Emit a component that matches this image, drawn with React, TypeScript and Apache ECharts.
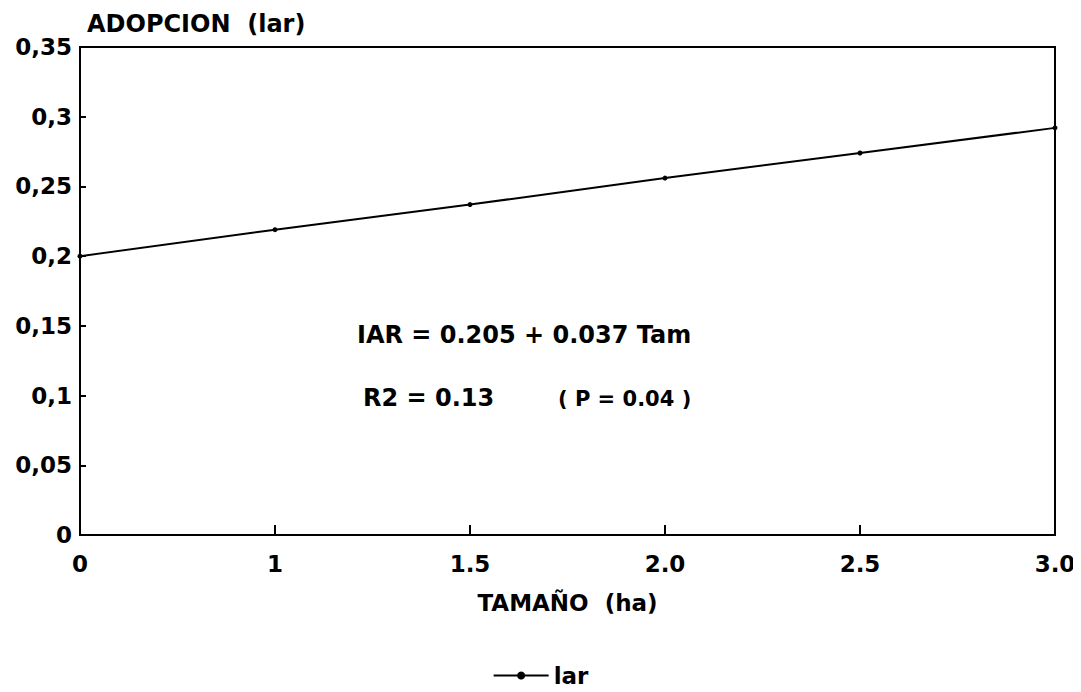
import React, { useEffect, useRef } from "react";
import * as echarts from "echarts";

const categories = ["0", "1", "1.5", "2.0", "2.5", "3.0"];
const iarValues = [0.2, 0.219, 0.237, 0.256, 0.274, 0.292];
const yTickLabels: Record<string, string> = {
  "0": "0",
  "0.05": "0,05",
  "0.1": "0,1",
  "0.15": "0,15",
  "0.2": "0,2",
  "0.25": "0,25",
  "0.3": "0,3",
  "0.35": "0,35",
};
const titleText = "ADOPCION  (lar)";
const xName = "TAMAÑO  (ha)";
const seriesName = "lar";
const eqText = "IAR = 0.205 + 0.037 Tam";
const r2Text = "R2 = 0.13";
const pText = "( P = 0.04 )";

const FONT = "'DejaVu Sans', 'Liberation Sans', Arial, sans-serif";

export default function App() {
  const ref = useRef<HTMLDivElement>(null);
  useEffect(() => {
    if (!ref.current) return;
    const chart = echarts.init(ref.current, null, { renderer: "svg" });
    chart.setOption({
      animation: false,
      backgroundColor: "#ffffff",
      textStyle: { fontFamily: FONT, color: "#000" },
      title: {
        text: titleText,
        left: 82,
        top: 7,
        textStyle: { fontFamily: FONT, fontWeight: "bold", fontSize: 24, color: "#000" },
      },
      grid: {
        left: 80,
        right: 26,
        top: 47,
        bottom: 157,
        show: true,
        borderColor: "#000",
        borderWidth: 2,
        containLabel: false,
      },
      legend: {
        bottom: 0,
        left: "center",
        itemWidth: 55,
        itemHeight: 10,
        itemGap: 10,
        data: [seriesName],
        textStyle: { fontFamily: FONT, fontWeight: "bold", fontSize: 23, color: "#000" },
      },
      xAxis: {
        type: "category",
        data: categories,
        boundaryGap: false,
        name: xName,
        nameLocation: "middle",
        nameGap: 56,
        nameTextStyle: { fontFamily: FONT, fontWeight: "bold", fontSize: 23, color: "#000" },
        axisLine: { show: true, lineStyle: { color: "#000", width: 2 } },
        axisTick: { show: true, inside: true, length: 10, lineStyle: { color: "#000", width: 2 } },
        axisLabel: {
          margin: 17,
          fontFamily: FONT,
          fontWeight: "bold",
          fontSize: 23,
          color: "#000",
        },
        splitLine: { show: false },
      },
      yAxis: {
        type: "value",
        min: 0,
        max: 0.35,
        interval: 0.05,
        axisLine: { show: true, lineStyle: { color: "#000", width: 2 } },
        axisTick: { show: true, inside: true, length: 6, lineStyle: { color: "#000", width: 2 } },
        axisLabel: {
          margin: 8,
          fontFamily: FONT,
          fontWeight: "bold",
          fontSize: 23,
          color: "#000",
          formatter: (v: number) => yTickLabels[String(Math.round(v * 100) / 100)] ?? String(v),
        },
        splitLine: { show: false },
      },
      series: [
        {
          name: seriesName,
          type: "line",
          data: iarValues,
          symbol: "circle",
          symbolSize: 5,
          showSymbol: true,
          itemStyle: { color: "#000" },
          lineStyle: { color: "#000", width: 2 },
        },
      ],
      graphic: [
        {
          type: "text",
          left: 357,
          top: 323,
          style: { text: eqText, fontFamily: FONT, fontWeight: "bold", fontSize: 24, fill: "#000" },
        },
        {
          type: "text",
          left: 363,
          top: 386,
          style: { text: r2Text, fontFamily: FONT, fontWeight: "bold", fontSize: 24, fill: "#000" },
        },
        {
          type: "text",
          left: 558,
          top: 388,
          style: { text: pText, fontFamily: FONT, fontWeight: "bold", fontSize: 21, fill: "#000" },
        },
      ],
    });
    return () => chart.dispose();
  }, []);
  return <div ref={ref} style={{ width: 1081, height: 692, margin: -8 }} />;
}
